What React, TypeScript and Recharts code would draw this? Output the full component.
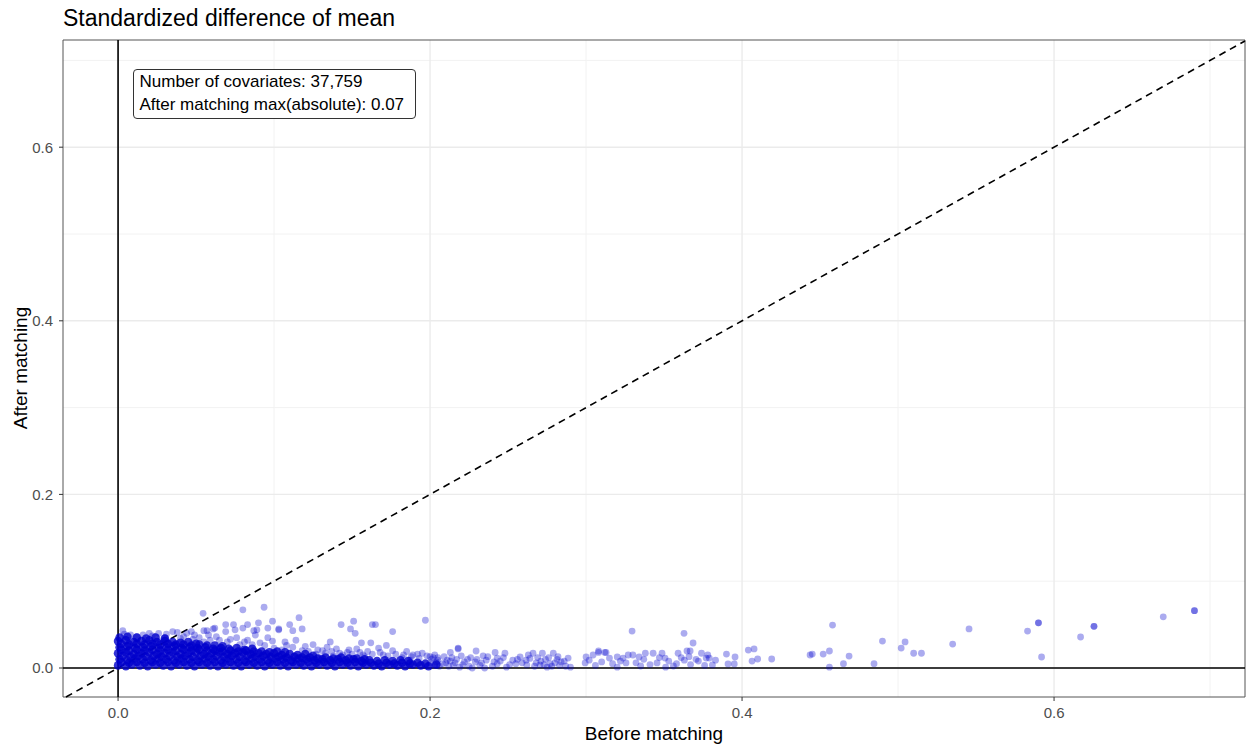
import React from 'react';
import { ScatterChart, Scatter, XAxis, YAxis, CartesianGrid, ReferenceLine, ReferenceArea } from 'recharts';

// Axis ranges (data units)
const X_MIN = -0.0353;
const X_MAX = 0.7224;
const Y_MIN = -0.0334;
const Y_MAX = 0.7235;
const majorTicks = [0, 0.2, 0.4, 0.6];
const minorTicks = [0.1, 0.3, 0.5, 0.7];

const titleText = 'Standardized difference of mean';
const xTitle = 'Before matching';
const yTitle = 'After matching';
const noteLines = ['Number of covariates: 37,759', 'After matching max(absolute): 0.07'];

// Dense core of the cloud (before, after)
const coreRowA: [number, number][] = [
  [0.000,0.003],[0.005,0.002],[0.009,0.004],[0.014,0.003],[0.019,0.002],[0.024,0.004],[0.029,0.003],[0.034,0.002],
  [0.039,0.004],[0.044,0.003],[0.049,0.002],[0.054,0.004],[0.059,0.003],[0.064,0.002],[0.069,0.004],[0.074,0.003],
  [0.079,0.002],[0.084,0.004],[0.089,0.003],[0.094,0.002],[0.099,0.004],[0.104,0.003],[0.109,0.002],[0.114,0.004],
  [0.119,0.003],[0.124,0.002],[0.129,0.004],[0.134,0.003],[0.139,0.002],[0.144,0.004],[0.149,0.003],[0.154,0.002],
  [0.159,0.004],[0.164,0.003],[0.169,0.002],[0.174,0.004],[0.179,0.003],[0.184,0.002],[0.189,0.004],[0.194,0.003],
  [0.199,0.002],[0.204,0.004],
];
const coreRowAB: [number, number][] = [
  [0.002,0.007],[0.007,0.006],[0.012,0.007],[0.017,0.006],[0.022,0.007],[0.027,0.006],[0.032,0.007],[0.037,0.006],
  [0.042,0.007],[0.047,0.006],[0.052,0.007],[0.057,0.006],[0.062,0.007],[0.067,0.006],[0.072,0.007],[0.077,0.006],
  [0.082,0.007],[0.087,0.006],[0.092,0.007],[0.097,0.006],[0.102,0.007],[0.107,0.006],[0.112,0.007],[0.117,0.006],
  [0.122,0.007],[0.127,0.006],[0.132,0.007],[0.137,0.006],[0.142,0.007],[0.147,0.006],[0.152,0.007],[0.157,0.006],
  [0.162,0.006],[0.167,0.005],[0.172,0.006],[0.177,0.005],[0.182,0.006],[0.187,0.005],[0.192,0.006],[0.197,0.005],
];
const coreRowB: [number, number][] = [
  [0.001,0.010],[0.006,0.009],[0.011,0.011],[0.016,0.010],[0.021,0.009],[0.026,0.011],[0.031,0.010],[0.036,0.009],
  [0.041,0.011],[0.046,0.010],[0.051,0.009],[0.056,0.011],[0.061,0.010],[0.066,0.009],[0.071,0.011],[0.076,0.010],
  [0.081,0.009],[0.086,0.011],[0.091,0.010],[0.096,0.009],[0.101,0.011],[0.106,0.010],[0.111,0.009],[0.116,0.011],
  [0.121,0.010],[0.126,0.009],[0.131,0.010],[0.136,0.009],[0.141,0.010],[0.146,0.009],[0.151,0.010],[0.156,0.008],
  [0.161,0.009],[0.166,0.008],[0.171,0.009],[0.176,0.008],[0.181,0.009],[0.186,0.008],
];
const coreRowBC: [number, number][] = [
  [0.003,0.014],[0.008,0.013],[0.013,0.014],[0.018,0.013],[0.023,0.014],[0.028,0.013],[0.033,0.014],[0.038,0.013],
  [0.043,0.014],[0.048,0.013],[0.053,0.014],[0.058,0.013],[0.063,0.014],[0.068,0.013],[0.073,0.014],[0.078,0.013],
  [0.083,0.014],[0.088,0.013],[0.093,0.014],[0.098,0.013],[0.103,0.013],[0.108,0.012],[0.113,0.013],[0.118,0.012],
  [0.123,0.012],[0.128,0.011],[0.133,0.012],[0.138,0.011],[0.143,0.012],[0.148,0.011],[0.153,0.011],[0.158,0.010],
];
const coreRowC: [number, number][] = [
  [0.000,0.017],[0.005,0.018],[0.010,0.016],[0.015,0.017],[0.020,0.018],[0.025,0.016],[0.030,0.017],[0.035,0.018],
  [0.040,0.016],[0.045,0.017],[0.050,0.018],[0.055,0.016],[0.060,0.017],[0.065,0.018],[0.070,0.016],[0.075,0.017],
  [0.080,0.018],[0.085,0.016],[0.090,0.017],[0.095,0.016],[0.100,0.017],[0.105,0.015],[0.110,0.016],[0.115,0.015],
  [0.120,0.016],[0.125,0.014],
];
const coreRowCD: [number, number][] = [
  [0.002,0.021],[0.007,0.020],[0.012,0.021],[0.017,0.020],[0.022,0.021],[0.027,0.020],[0.032,0.021],[0.037,0.020],
  [0.042,0.021],[0.047,0.020],[0.052,0.021],[0.057,0.020],[0.062,0.020],[0.067,0.019],[0.072,0.020],[0.077,0.019],
  [0.082,0.020],[0.087,0.019],[0.092,0.019],[0.097,0.018],[0.102,0.019],[0.107,0.018],
];
const coreRowD: [number, number][] = [
  [0.001,0.024],[0.006,0.025],[0.011,0.023],[0.016,0.024],[0.021,0.025],[0.026,0.023],[0.031,0.024],[0.036,0.025],
  [0.041,0.023],[0.046,0.024],[0.051,0.023],[0.056,0.024],[0.061,0.022],[0.066,0.023],[0.071,0.022],[0.076,0.023],
  [0.081,0.021],[0.086,0.022],
];
const coreRowDE: [number, number][] = [
  [0.002,0.028],[0.007,0.027],[0.012,0.028],[0.017,0.027],[0.022,0.028],[0.027,0.027],[0.032,0.028],[0.037,0.027],
  [0.042,0.027],[0.047,0.026],[0.052,0.027],[0.057,0.026],[0.062,0.026],[0.067,0.025],
];
const coreRowE: [number, number][] = [
  [0.000,0.031],[0.005,0.032],[0.010,0.030],[0.015,0.031],[0.020,0.032],[0.025,0.030],[0.030,0.031],[0.035,0.030],
  [0.040,0.029],[0.045,0.030],[0.050,0.028],
];
const coreRowTop: [number, number][] = [
  [0.001,0.035],[0.006,0.036],[0.012,0.035],[0.018,0.034],[0.024,0.035],[0.030,0.034],
];

// Individually visible covariates
const spreadNear: [number, number][] = [
  [0.003,0.043],[0.008,0.038],[0.016,0.038],[0.026,0.040],[0.035,0.042],[0.038,0.041],[0.044,0.040],[0.047,0.042],
  [0.049,0.038],[0.055,0.043],[0.057,0.043],[0.061,0.045],[0.062,0.046],[0.065,0.032],[0.065,0.023],[0.069,0.050],
  [0.069,0.042],[0.074,0.050],[0.075,0.044],[0.076,0.035],[0.080,0.046],[0.083,0.050],[0.083,0.032],[0.087,0.043],
  [0.088,0.038],[0.089,0.044],[0.090,0.052],[0.091,0.029],[0.096,0.046],[0.096,0.035],[0.099,0.054],[0.100,0.023],
  [0.103,0.044],[0.103,0.045],[0.107,0.030],[0.110,0.050],[0.112,0.043],[0.116,0.058],[0.118,0.045],[0.059,0.032],
  [0.055,0.030],[0.012,0.036],[0.022,0.037],[0.030,0.035],[0.042,0.036],[0.052,0.035],[0.070,0.030],[0.078,0.027],
  [0.094,0.026],[0.105,0.021],[0.112,0.024],[0.118,0.020],[0.0545,0.063],[0.080,0.067],[0.0936,0.070],
  [0.004,0.039],[0.020,0.040],[0.031,0.039],[0.040,0.034],[0.048,0.033],[0.058,0.038],[0.063,0.036],[0.072,0.033],
  [0.081,0.030],[0.086,0.027],[0.099,0.031],[0.108,0.026],[0.114,0.032],
];
const spreadMid: [number, number][] = [
  [0.120,0.025],[0.125,0.027],[0.134,0.024],[0.142,0.017],[0.143,0.050],[0.147,0.018],[0.149,0.045],[0.151,0.054],
  [0.152,0.040],[0.156,0.029],[0.162,0.029],[0.163,0.050],[0.165,0.050],[0.167,0.023],[0.176,0.042],[0.176,0.020],
  [0.189,0.015],[0.197,0.055],[0.200,0.013],[0.213,0.018],[0.218,0.022],[0.218,0.023],[0.130,0.012],[0.138,0.014],
  [0.158,0.013],[0.170,0.015],[0.182,0.012],[0.193,0.011],[0.205,0.009],[0.210,0.006],[0.128,0.021],[0.136,0.030],
  [0.153,0.022],[0.160,0.019],[0.172,0.026],[0.185,0.019],[0.195,0.017],
  [0.122,0.019],[0.127,0.016],[0.131,0.020],[0.133,0.017],[0.137,0.019],[0.140,0.022],[0.144,0.015],[0.148,0.021],
  [0.150,0.016],[0.155,0.018],[0.157,0.015],[0.163,0.016],[0.168,0.018],[0.173,0.014],[0.178,0.016],[0.183,0.015],
  [0.188,0.013],[0.192,0.016],[0.198,0.014],[0.202,0.012],
];
const spreadBand: [number, number][] = [
  [0.200,0.006],[0.203,0.003],[0.205,0.012],[0.208,0.005],[0.211,0.009],[0.212,0.002],[0.214,0.012],[0.216,0.006],
  [0.219,0.001],[0.221,0.004],[0.224,0.010],[0.227,0.000],[0.229,0.007],[0.2295,0.0196],[0.232,0.003],[0.234,0.014],
  [0.235,0.000],[0.236,0.009],[0.2417,0.018],[0.243,0.0115],[0.243,0.0046],[0.245,0.008],[0.248,0.017],[0.249,0.001],
  [0.253,0.009],[0.255,0.005],[0.2577,0.0127],[0.2615,0.009],[0.262,0.0035],[0.264,0.011],[0.266,0.017],[0.268,0.006],
  [0.2705,0.0035],[0.272,0.017],[0.273,0.004],[0.275,0.001],[0.276,0.012],[0.279,0.017],[0.280,0.006],[0.2814,0.010],
  [0.283,0.003],[0.286,0.008],[0.2885,0.0115],[0.290,0.001],[0.203,0.015],[0.187,0.009],
  [0.201,0.010],[0.204,0.007],[0.206,0.002],[0.209,0.013],[0.213,0.008],[0.215,0.003],[0.217,0.010],[0.220,0.014],
  [0.222,0.007],[0.225,0.002],[0.226,0.012],[0.230,0.010],[0.233,0.006],[0.237,0.013],[0.240,0.002],[0.241,0.007],
  [0.247,0.012],[0.251,0.004],[0.256,0.010],[0.259,0.006],[0.263,0.015],[0.267,0.002],[0.269,0.012],[0.271,0.008],
  [0.274,0.010],[0.277,0.005],[0.278,0.002],[0.282,0.013],[0.284,0.007],[0.287,0.002],
];
const spreadFar: [number, number][] = [
  [0.2994,0.0058],[0.300,0.0127],[0.3045,0.015],[0.308,0.0196],[0.308,0.018],[0.310,0.007],[0.3128,0.018],[0.312,0.018],
  [0.315,0.0115],[0.320,0.0127],[0.320,0.001],[0.3237,0.0115],[0.3256,0.0058],[0.3295,0.0426],[0.330,0.015],[0.334,0.0127],
  [0.335,0.0023],[0.338,0.017],[0.343,0.017],[0.3455,0.0058],[0.3487,0.017],[0.3506,0.0115],[0.351,0.001],[0.356,0.0023],
  [0.359,0.017],[0.3628,0.040],[0.363,0.009],[0.3647,0.0196],[0.3667,0.0196],[0.3686,0.0288],[0.3705,0.010],[0.374,0.017],
  [0.377,0.0115],[0.379,0.0115],[0.381,0.0035],[0.390,0.016],[0.391,0.0046],[0.3955,0.0127],[0.395,0.0046],[0.404,0.0207],
  [0.4077,0.022],[0.4064,0.008],[0.410,0.0104],[0.419,0.0104],
  [0.302,0.009],[0.306,0.003],[0.317,0.005],[0.322,0.008],[0.327,0.015],[0.332,0.006],[0.337,0.010],[0.341,0.004],
  [0.347,0.012],[0.353,0.008],[0.358,0.005],[0.361,0.012],[0.366,0.013],[0.367,0.004],[0.372,0.008],[0.376,0.003],
  [0.378,0.015],[0.383,0.009],
];
const spreadTail: [number, number][] = [
  [0.4436,0.015],[0.445,0.016],[0.452,0.016],[0.456,0.0196],[0.458,0.0495],[0.456,0.001],[0.465,0.005],[0.4686,0.0138],
  [0.4846,0.005],[0.490,0.031],[0.502,0.023],[0.5045,0.030],[0.510,0.017],[0.515,0.017],[0.535,0.0276],[0.5455,0.045],
  [0.583,0.0426],[0.590,0.052],[0.590,0.052],[0.592,0.0127],[0.617,0.0357],[0.6256,0.048],[0.6256,0.048],[0.670,0.059],
  [0.690,0.066],[0.690,0.066],
];

const toData = (pts: [number, number][]) => pts.map(([x, y]) => ({ x, y }));
const coreData = toData([
  ...coreRowA, ...coreRowAB, ...coreRowB, ...coreRowBC, ...coreRowC,
  ...coreRowCD, ...coreRowD, ...coreRowDE, ...coreRowE, ...coreRowTop,
]);
const spreadData = toData([...spreadNear, ...spreadMid, ...spreadBand, ...spreadFar, ...spreadTail]);

const BLUE = '#0000CD';
const FONT = '"Liberation Sans", Arial, Helvetica, sans-serif';

const CoreDot = (p: any) => <circle cx={p.cx} cy={p.cy} r={4.3} fill="#0000CC" fillOpacity={0.8} />;
const LightDot = (p: any) => <circle cx={p.cx} cy={p.cy} r={3.4} fill={BLUE} fillOpacity={0.33} />;

export default function App() {
  return (
    <div style={{ position: 'absolute', left: 0, top: 0, width: 1247, height: 747, background: '#fff', fontFamily: FONT }}>
      <ScatterChart width={1247} height={747} margin={{ top: 40, right: 2, bottom: 0, left: 0 }}>
        <CartesianGrid horizontalValues={minorTicks} verticalValues={minorTicks} stroke="#F2F2F2" strokeWidth={1} />
        <CartesianGrid horizontalValues={majorTicks} verticalValues={majorTicks} stroke="#EBEBEB" strokeWidth={1.4} />
        <XAxis
          type="number"
          dataKey="x"
          domain={[X_MIN, X_MAX]}
          ticks={majorTicks}
          allowDataOverflow
          height={50}
          tickSize={4}
          tickMargin={6}
          axisLine={false}
          tickLine={{ stroke: '#333' }}
          tick={{ fill: '#4D4D4D', fontSize: 15, fontFamily: FONT }}
          tickFormatter={(v: number) => v.toFixed(1)}
        />
        <YAxis
          type="number"
          dataKey="y"
          domain={[Y_MIN, Y_MAX]}
          ticks={majorTicks}
          allowDataOverflow
          width={63}
          tickSize={4}
          tickMargin={6}
          axisLine={false}
          tickLine={{ stroke: '#333' }}
          tick={{ fill: '#4D4D4D', fontSize: 15, fontFamily: FONT }}
          tickFormatter={(v: number) => v.toFixed(1)}
        />
        <Scatter data={coreData} shape={CoreDot} isAnimationActive={false} />
        <Scatter data={spreadData} shape={LightDot} isAnimationActive={false} />
        <ReferenceLine x={0} stroke="#000" strokeWidth={1.6} />
        <ReferenceLine y={0} stroke="#000" strokeWidth={1.6} />
        <ReferenceLine
          segment={[{ x: Y_MIN, y: Y_MIN }, { x: X_MAX, y: X_MAX }]}
          stroke="#000"
          strokeWidth={1.6}
          strokeDasharray="7 5"
        />
        <ReferenceArea x1={X_MIN} x2={X_MAX} y1={Y_MIN} y2={Y_MAX} fill="none" stroke="#555" strokeWidth={1} />
      </ScatterChart>

      <div style={{ position: 'absolute', left: 63, top: 6.5, fontSize: 23, lineHeight: '23px', color: '#000', whiteSpace: 'nowrap' }}>
        {titleText}
      </div>
      <div style={{ position: 'absolute', left: 654, top: 724, transform: 'translateX(-50%)', fontSize: 19, lineHeight: '19px', color: '#000', whiteSpace: 'nowrap' }}>
        {xTitle}
      </div>
      <div style={{ position: 'absolute', left: 19.5, top: 368, transform: 'translate(-50%, -50%) rotate(-90deg)', fontSize: 19, lineHeight: '19px', color: '#000', whiteSpace: 'nowrap' }}>
        {yTitle}
      </div>
      <div
        style={{
          position: 'absolute', left: 132.5, top: 69, width: 283, height: 50, boxSizing: 'border-box',
          border: '1px solid #333', borderRadius: 4, background: '#fff', padding: '0 0 0 6px',
          fontSize: 17, lineHeight: '23px', color: '#000', whiteSpace: 'nowrap',
        }}
      >
        {noteLines.map((t) => (
          <div key={t}>{t}</div>
        ))}
      </div>
    </div>
  );
}
